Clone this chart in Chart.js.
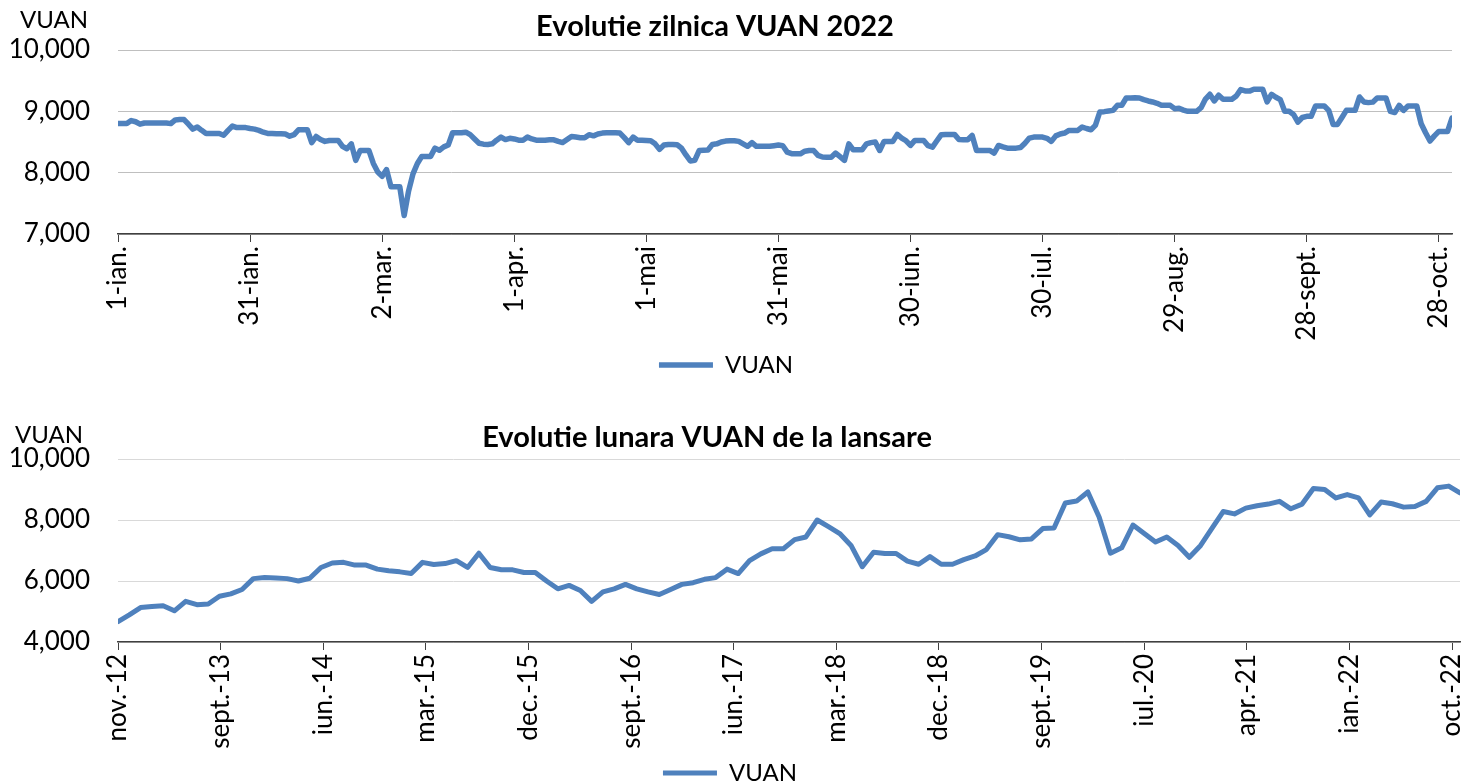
<!DOCTYPE html>
<html>
<head>
<meta charset="utf-8">
<title>Evolutie VUAN</title>
<script src="https://cdn.jsdelivr.net/npm/chart.js@4.4.0/dist/chart.umd.min.js"></script>
<style>
  html, body { margin: 0; padding: 0; background: #fff; overflow: hidden; }
  #wrap { position: relative; width: 1464px; height: 783px; overflow: hidden; }
  .box { position: absolute; left: 0; width: 1464px; height: 400px; }
</style>
</head>
<body>
<div id="wrap">
  <div class="box" style="top:0"><canvas id="dailyChart"></canvas></div>
  <div class="box" style="top:400px"><canvas id="monthlyChart"></canvas></div>
</div>
<script>
'use strict';

// Daily values 2022 (1 ian. -> 31 oct.), one per calendar day
const dailyValues = [
  8800, 8800, 8800, 8850, 8830, 8790, 8810, 8810, 8810, 8810,
  8810, 8810, 8800, 8860, 8865, 8865, 8790, 8710, 8745, 8690,
  8640, 8640, 8640, 8640, 8610, 8690, 8760, 8735, 8735, 8735,
  8720, 8710, 8690, 8660, 8640, 8640, 8635, 8635, 8630, 8595,
  8620, 8700, 8700, 8700, 8490, 8590, 8540, 8510, 8525, 8525,
  8525, 8430, 8390, 8470, 8200, 8360, 8360, 8360, 8150, 8010,
  7940, 8050, 7770, 7770, 7770, 7300, 7700, 7980, 8150, 8265,
  8265, 8265, 8400, 8365, 8420, 8450, 8650, 8650, 8650, 8660,
  8620, 8550, 8480, 8465, 8460, 8470, 8530, 8580, 8540, 8560,
  8550, 8530, 8530, 8580, 8550, 8530, 8530, 8530, 8535, 8535,
  8510, 8490, 8540, 8590, 8580, 8570, 8570, 8620, 8600, 8630,
  8645, 8650, 8650, 8650, 8645, 8570, 8490, 8580, 8530, 8530,
  8525, 8520, 8470, 8380, 8450, 8460, 8460, 8455, 8400, 8290,
  8190, 8200, 8360, 8365, 8370, 8460, 8470, 8500, 8515, 8520,
  8520, 8510, 8470, 8430, 8490, 8430, 8430, 8430, 8430, 8440,
  8450, 8440, 8335, 8310, 8308, 8308, 8350, 8362, 8362, 8281,
  8255, 8253, 8253, 8320, 8260, 8199, 8470, 8373, 8373, 8373,
  8470, 8490, 8499, 8362, 8510, 8510, 8510, 8624, 8564, 8520,
  8444, 8526, 8526, 8526, 8440, 8417, 8520, 8619, 8624, 8624,
  8624, 8540, 8537, 8537, 8608, 8362, 8362, 8362, 8362, 8319,
  8444, 8420, 8400, 8400, 8400, 8410, 8480, 8564, 8580, 8580,
  8580, 8560, 8510, 8600, 8630, 8646, 8689, 8689, 8689, 8744,
  8720, 8700, 8771, 8989, 8995, 9005, 9016, 9098, 9100, 9218,
  9218, 9220, 9218, 9190, 9169, 9153, 9130, 9098, 9098, 9098,
  9044, 9050, 9020, 9000, 9000, 9000, 9060, 9200, 9278, 9169,
  9262, 9196, 9196, 9196, 9250, 9354, 9332, 9330, 9360, 9360,
  9360, 9153, 9278, 9230, 9191, 9000, 9000, 8950, 8826, 8900,
  8918, 8918, 9087, 9087, 9087, 9016, 8787, 8787, 8900, 9016,
  9016, 9016, 9234, 9153, 9142, 9150, 9218, 9218, 9218, 9000,
  8980, 9098, 9016, 9087, 9087, 9087, 8798, 8650, 8515, 8600,
  8673, 8673, 8673, 8891
];
const dailyTickLabels = ['1-ian.', '31-ian.', '2-mar.', '1-apr.', '1-mai', '31-mai',
  '30-iun.', '30-iul.', '29-aug.', '28-sept.', '28-oct.'];
const dailyTickStep = 30; // days between labels

// Monthly values since launch (nov. 2012 -> oct. 2022)
const monthlyValues = [
  4667, 4890, 5130, 5167, 5189, 5022, 5333, 5222, 5244, 5500,
  5578, 5722, 6078, 6111, 6100, 6078, 6000, 6089, 6444, 6589,
  6611, 6522, 6522, 6389, 6333, 6300, 6244, 6611, 6540, 6570,
  6667, 6444, 6911, 6444, 6367, 6367, 6278, 6278, 6000, 5744,
  5856, 5689, 5333, 5644, 5744, 5889, 5744, 5644, 5556, 5722,
  5889, 5944, 6056, 6111, 6389, 6244, 6667, 6889, 7056, 7056,
  7356, 7444, 8000, 7780, 7556, 7167, 6467, 6944, 6900, 6900,
  6650, 6550, 6800, 6550, 6550, 6700, 6820, 7030, 7520, 7450,
  7350, 7380, 7720, 7740, 8560, 8620, 8920, 8100, 6911, 7089,
  7833, 7556, 7278, 7444, 7167, 6778, 7167, 7722, 8278, 8200,
  8389, 8467, 8522, 8611, 8367, 8522, 9033, 9000, 8722, 8833,
  8722, 8167, 8589, 8533, 8422, 8444, 8611, 9056, 9111, 8889
];
const monthlyTickLabels = ['nov.-12', 'sept.-13', 'iun.-14', 'mar.-15', 'dec.-15', 'sept.-16',
  'iun.-17', 'mar.-18', 'dec.-18', 'sept.-19', 'iul.-20', 'apr.-21', 'ian.-22', 'oct.-22'];
const monthlyTickStep = 9.1; // months between labels (date axis)

const seriesName = 'VUAN';
const LINE_COLOR = '#4F81BD';

Chart.defaults.font.family = 'Lato, "Open Sans", sans-serif';
Chart.defaults.font.size = 24;
Chart.defaults.color = '#000';

// Title + unit label drawn over the chart
const headerPlugin = {
  id: 'header',
  afterDraw(chart, args, opts) {
    const ctx = chart.ctx;
    ctx.save();
    ctx.fillStyle = '#000';
    ctx.textBaseline = 'middle';
    ctx.font = 'bold 29px Lato, sans-serif';
    ctx.textAlign = 'center';
    ctx.fillText(opts.title, opts.titleX, opts.titleY);
    ctx.font = '24px Lato, sans-serif';
    ctx.textAlign = 'left';
    ctx.fillText(opts.unit, opts.unitX, opts.unitY);
    ctx.restore();
  }
};

function buildChart(canvasId, cfg) {
  const ctx = document.getElementById(canvasId).getContext('2d');
  return new Chart(ctx, {
    type: 'line',
    data: {
      datasets: [{
        label: seriesName,
        data: cfg.values.map((v, i) => ({ x: i, y: v })),
        borderColor: LINE_COLOR,
        backgroundColor: LINE_COLOR,
        borderWidth: cfg.lineWidth,
        borderCapStyle: 'round',
        borderJoinStyle: 'round',
        pointRadius: 0,
        tension: 0
      }]
    },
    options: {
      responsive: true,
      maintainAspectRatio: false,
      animation: false,
      layout: { padding: cfg.padding },
      plugins: {
        title: { display: false },
        tooltip: { enabled: false },
        legend: {
          position: 'bottom',
          labels: {
            usePointStyle: true,
            pointStyle: 'line',
            pointStyleWidth: 54,
            padding: 10,
            color: '#000',
            font: { size: 24 }
          }
        },
        header: cfg.header
      },
      scales: {
        x: {
          type: 'linear',
          min: 0,
          max: cfg.values.length - 1,
          afterBuildTicks: (scale) => {
            scale.ticks = cfg.tickLabels.map((_, k) => ({ value: k * cfg.tickStep }));
          },
          afterFit: (scale) => {
            scale.height = cfg.xHeight;
            scale.paddingLeft = 0;
            scale.paddingRight = 0;
          },
          grid: { drawOnChartArea: false, drawTicks: true, tickLength: 8, color: '#404040' },
          border: { display: true, color: '#404040', width: 1.5 },
          ticks: {
            autoSkip: false,
            minRotation: 90,
            maxRotation: 90,
            padding: 4,
            font: { size: 26 },
            callback: (value, index) => cfg.tickLabels[index]
          }
        },
        y: {
          min: cfg.yMin,
          max: 10000,
          afterBuildTicks: (scale) => {
            const ticks = [];
            for (let v = cfg.yMin; v <= 10000; v += cfg.yStep) ticks.push({ value: v });
            scale.ticks = ticks;
          },
          afterFit: (scale) => { scale.width = 118; },
          grid: { color: cfg.gridColor, lineWidth: 1, drawTicks: false },
          border: { display: false },
          ticks: {
            padding: 28,
            font: { size: 26 },
            callback: (value) => value.toLocaleString('en-US')
          }
        }
      }
    },
    plugins: [headerPlugin]
  });
}

buildChart('dailyChart', {
  values: dailyValues,
  tickLabels: dailyTickLabels,
  tickStep: dailyTickStep,
  yMin: 7000,
  yStep: 1000,
  gridColor: '#BFBFBF',
  lineWidth: 5.5,
  xHeight: 109,
  padding: { top: 50, right: 12, bottom: 13, left: 0 },
  header: { title: 'Evolutie zilnica VUAN 2022', titleX: 715, titleY: 27, unit: 'VUAN', unitX: 20, unitY: 20 }
});

buildChart('monthlyChart', {
  values: monthlyValues,
  tickLabels: monthlyTickLabels,
  tickStep: monthlyTickStep,
  yMin: 4000,
  yStep: 2000,
  gridColor: '#D9D9D9',
  lineWidth: 5,
  xHeight: 109,
  padding: { top: 59, right: 4, bottom: 5, left: 0 },
  header: { title: 'Evolutie lunara VUAN de la lansare', titleX: 707, titleY: 38, unit: 'VUAN', unitX: 15, unitY: 35 }
});
</script>
</body>
</html>
